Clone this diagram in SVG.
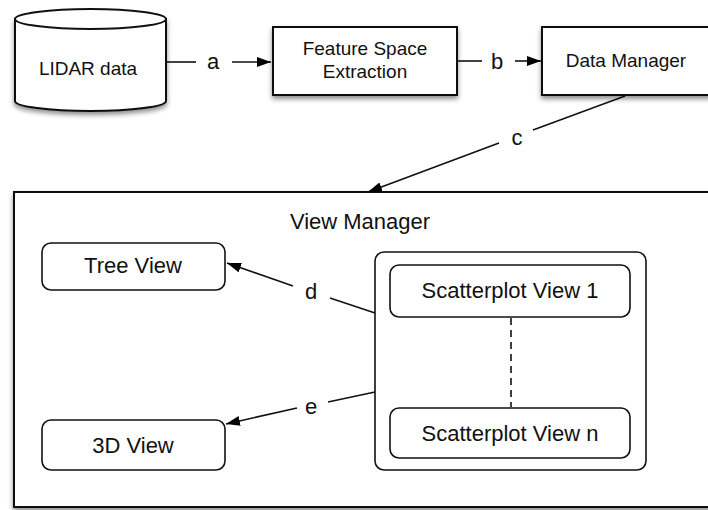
<svg xmlns="http://www.w3.org/2000/svg" width="708" height="510" viewBox="0 0 708 510">
<defs>
<filter id="sh" x="-10%" y="-10%" width="125%" height="140%">
<feDropShadow dx="0" dy="3" stdDeviation="2.5" flood-color="#000" flood-opacity="0.45"/>
</filter>
<marker id="arr" viewBox="0 0 14 10" refX="14" refY="5" markerWidth="14" markerHeight="10" markerUnits="userSpaceOnUse" orient="auto">
<path d="M0,0 L14,5 L0,10 z" fill="#000"/>
</marker>
</defs>
<style>
text{font-family:"Liberation Sans",Arial,sans-serif;fill:#111;text-anchor:middle}
.box{fill:#fff;stroke:#111;stroke-width:2}
.rbox{fill:#fff;stroke:#111;stroke-width:1.6}
.ln{fill:none;stroke:#111;stroke-width:1.6}
.t19{font-size:19px}
.t22{font-size:22px}
</style>
<rect width="708" height="510" fill="#fff"/>
<g id="lidar">
<path class="box" filter="url(#sh)" d="M15,19 L15,101 A75.5,10 0 0 0 166,101 L166,19 Z"/>
<ellipse class="box" cx="90.5" cy="19" rx="75.5" ry="10"/>
<text class="t19" x="88" y="75">LIDAR data</text>
</g>
<g id="fse">
<rect class="box" filter="url(#sh)" x="273" y="27" width="184" height="68"/>
<text class="t19" x="365" y="55">Feature Space</text>
<text class="t19" x="365" y="78">Extraction</text>
</g>
<g id="dm">
<rect class="box" filter="url(#sh)" x="542" y="27" width="180" height="68"/>
<text class="t19" x="626" y="67">Data Manager</text>
</g>
<g id="vm">
<rect class="box" filter="url(#sh)" x="14" y="192" width="706" height="315"/>
<text class="t22" x="360" y="229">View Manager</text>
</g>
<g id="tree">
<rect class="rbox" x="42" y="243" width="183" height="47" rx="9"/>
<text class="t22" x="133" y="273">Tree View</text>
</g>
<g id="view3d">
<rect class="rbox" x="42" y="420" width="183" height="50" rx="9"/>
<text class="t22" x="133" y="453">3D View</text>
</g>
<g id="scatter">
<rect class="rbox" x="375" y="252" width="271" height="218" rx="9"/>
<g id="sv1">
<rect class="rbox" x="390" y="265" width="240" height="52" rx="9"/>
<text class="t22" x="510" y="298">Scatterplot View 1</text>
</g>
<g id="svn">
<rect class="rbox" x="390" y="408" width="240" height="50" rx="9"/>
<text class="t22" x="510" y="441">Scatterplot View n</text>
</g>
</g>
<g id="connectors">
<line class="ln" x1="166" y1="62" x2="196" y2="62"/>
<line class="ln" x1="232" y1="62" x2="271" y2="62" marker-end="url(#arr)"/>
<text class="t22" x="213" y="69">a</text>
<line class="ln" x1="457" y1="61" x2="482" y2="61"/>
<line class="ln" x1="515" y1="61" x2="541" y2="61" marker-end="url(#arr)"/>
<text class="t22" x="497" y="69">b</text>
<line class="ln" x1="625" y1="96" x2="533" y2="130"/>
<line class="ln" x1="499" y1="143" x2="368" y2="192" marker-end="url(#arr)"/>
<text class="t22" x="517" y="145">c</text>
<line class="ln" x1="375" y1="313" x2="330" y2="298"/>
<line class="ln" x1="293" y1="286" x2="227" y2="263" marker-end="url(#arr)"/>
<text class="t22" x="311" y="299">d</text>
<line class="ln" x1="375" y1="392" x2="328" y2="402"/>
<line class="ln" x1="297" y1="408" x2="226" y2="424" marker-end="url(#arr)"/>
<text class="t22" x="311" y="414">e</text>
<line class="ln" x1="511" y1="318" x2="511" y2="407" stroke-dasharray="7,5"/>
</g>
</svg>
